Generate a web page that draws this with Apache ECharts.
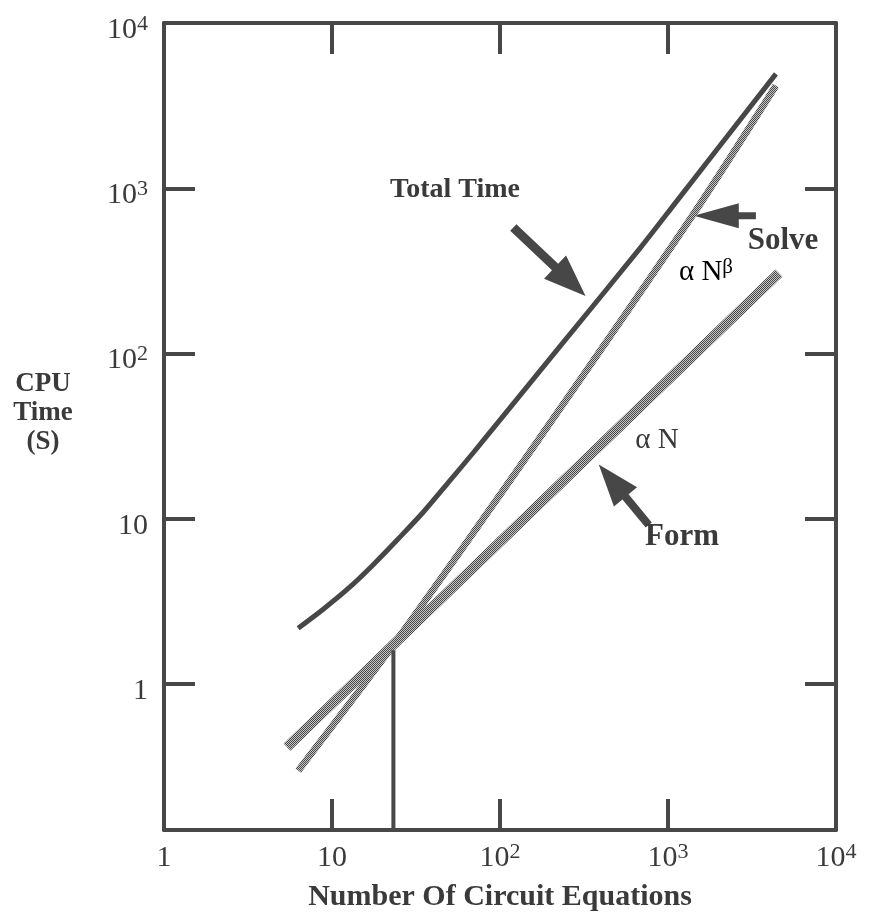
<!DOCTYPE html>
<html><head><meta charset="utf-8">
<script src="https://cdn.jsdelivr.net/npm/echarts@6/dist/echarts.min.js"></script>
<style>html,body{margin:0;padding:0;background:#fff}#c{width:870px;height:917px}</style>
</head><body><div id="c"></div>
<script>
// ---- data ----
const xRange = [1, 10000];
const yRange = [0.131, 10000];
const totalN = [6.29, 8.87, 12.5, 17.6, 24.8, 35.0, 49.3, 69.5, 97.9, 230, 688, 1143, 4390];
const totalT = [2.18, 2.84, 3.79, 5.28, 7.57, 11.0, 16.6, 25.2, 38.6, 112, 439, 851, 4920];
const solveN = [6.3, 23.2, 167, 1420, 4390];
const solveT = [0.30, 1.73, 29.5, 700, 4180];
const formN = [5.4, 4570];
const formT = [0.416, 307];
const crossN = [23.2, 23.2];
const crossT = [0.131, 1.6];
// annotation arrows: [tail, tip] in data coords
const arrowTotal = [[120, 579], [323, 223]];
const arrowSolve = [[3335, 683], [1424, 683]];
const arrowForm = [[768, 9.18], [387, 21.3]];

const SERIF = '"Liberation Serif", "DejaVu Serif", serif';
const INK = '#474747';

function zip(a, b) { return a.map((v, i) => [v, b[i]]); }
function stipple() {
  const c = document.createElement('canvas');
  c.width = 2; c.height = 2;
  const g = c.getContext('2d');
  g.fillStyle = '#c4c4c4'; g.fillRect(0, 0, 2, 2);
  g.fillStyle = '#4a4a4a'; g.fillRect(0, 0, 1, 1); g.fillRect(1, 1, 1, 1);
  return c;
}
const stip = { image: stipple(), repeat: 'repeat' };

function powLabel(v) {
  const e = Math.log10(v);
  const r = Math.round(e);
  if (Math.abs(e - r) > 1e-6) return '';
  if (r === 0) return '{b|1}';
  if (r === 1) return '{b|10}';
  return '{b|10}{s|' + r + '}';
}
const rich = {
  b: { fontSize: 30, lineHeight: 34, fontFamily: SERIF, color: '#3a3a3a' },
  s: { fontSize: 22, lineHeight: 18, verticalAlign: 'top', fontFamily: SERIF, color: '#3a3a3a' }
};
const axisLine = { show: true, lineStyle: { color: INK, width: 4 } };
const axisTick = { show: true, inside: true, length: 31, lineStyle: { color: INK, width: 4 } };

const chart = echarts.init(document.getElementById('c'));
chart.setOption({
  animation: false,
  backgroundColor: '#ffffff',
  grid: { left: 164, right: 34, top: 23, bottom: 87 },
  xAxis: [
    { type: 'log', logBase: 10, min: xRange[0], max: xRange[1], position: 'bottom',
      axisLine, axisTick, splitLine: { show: false },
      axisLabel: { formatter: powLabel, rich, margin: 11 },
      name: 'Number Of Circuit Equations', nameLocation: 'middle', nameGap: 52,
      nameTextStyle: { fontFamily: SERIF, fontWeight: 'bold', fontSize: 30, color: '#3a3a3a' } },
    { type: 'log', logBase: 10, min: xRange[0], max: xRange[1], position: 'top',
      axisLine, axisTick, splitLine: { show: false }, axisLabel: { show: false } }
  ],
  yAxis: [
    { type: 'log', logBase: 10, min: yRange[0], max: yRange[1], position: 'left',
      axisLine, axisTick, splitLine: { show: false },
      axisLabel: { formatter: powLabel, rich, margin: 16, padding: [14, 0, 0, 0] } },
    { type: 'log', logBase: 10, min: yRange[0], max: yRange[1], position: 'right',
      axisLine, axisTick, splitLine: { show: false }, axisLabel: { show: false } }
  ],
  series: [
    { name: 'Form', type: 'line', data: zip(formN, formT), showSymbol: false, silent: true,
      lineStyle: { color: stip, width: 10 } },
    { name: 'Solve', type: 'line', data: zip(solveN, solveT), showSymbol: false, silent: true, smooth: 0.25,
      lineStyle: { color: stip, width: 7 } },
    { name: 'Crossover', type: 'line', data: zip(crossN, crossT), showSymbol: false, silent: true,
      lineStyle: { color: '#484848', width: 4 } },
    { name: 'Total Time', type: 'line', data: zip(totalN, totalT), showSymbol: false, silent: true, smooth: 0.3,
      lineStyle: { color: INK, width: 5 } }
  ]
});

function arrowShape(tail, tip, sw, hl, hw) {
  const dx = tip[0] - tail[0], dy = tip[1] - tail[1];
  const L = Math.hypot(dx, dy); const ux = dx / L, uy = dy / L; const nx = -uy, ny = ux;
  const bx = tip[0] - ux * hl, by = tip[1] - uy * hl;
  return [
    [tail[0] + nx * sw / 2, tail[1] + ny * sw / 2],
    [bx + nx * sw / 2, by + ny * sw / 2],
    [bx + nx * hw / 2, by + ny * hw / 2],
    [tip[0], tip[1]],
    [bx - nx * hw / 2, by - ny * hw / 2],
    [bx - nx * sw / 2, by - ny * sw / 2],
    [tail[0] - nx * sw / 2, tail[1] - ny * sw / 2]
  ];
}
function px(p) { return chart.convertToPixel({ xAxisIndex: 0, yAxisIndex: 0 }, p); }
function arrow(a, sw, hl, hw) {
  return { type: 'polygon', silent: true, shape: { points: arrowShape(px(a[0]), px(a[1]), sw, hl, hw) },
    style: { fill: INK } };
}
const boldText = (t, x, y, size) => ({ type: 'text', x, y, silent: true,
  style: { text: t, font: 'bold ' + size + 'px ' + SERIF, fill: '#3a3a3a', align: 'center', verticalAlign: 'middle' } });

chart.setOption({
  graphic: [
    arrow(arrowTotal, 9, 42, 32),
    arrow(arrowSolve, 7, 45, 25),
    arrow(arrowForm, 8, 42, 30),
    boldText('Total Time', 455, 190, 28),
    boldText('Solve', 783, 241, 31),
    boldText('Form', 682, 537, 31),
    { type: 'text', x: 43, y: 413, silent: true,
      style: { text: 'CPU\nTime\n(S)', font: 'bold 27px ' + SERIF, lineHeight: 29, fill: '#3a3a3a', align: 'center', verticalAlign: 'middle' } },
    { type: 'text', x: 706, y: 272, silent: true,
      style: { text: '{a|α N}{s|β}', align: 'center', verticalAlign: 'middle',
        rich: { a: { fontSize: 29, lineHeight: 30, fontFamily: SERIF, color: '#3a3a3a' },
                s: { fontSize: 21, lineHeight: 16, verticalAlign: 'top', fontFamily: SERIF, color: '#3a3a3a' } } } },
    { type: 'text', x: 657, y: 440, silent: true,
      style: { text: 'α N', font: '29px ' + SERIF, fill: '#3a3a3a', align: 'center', verticalAlign: 'middle' } }
  ]
});
</script>
</body></html>
